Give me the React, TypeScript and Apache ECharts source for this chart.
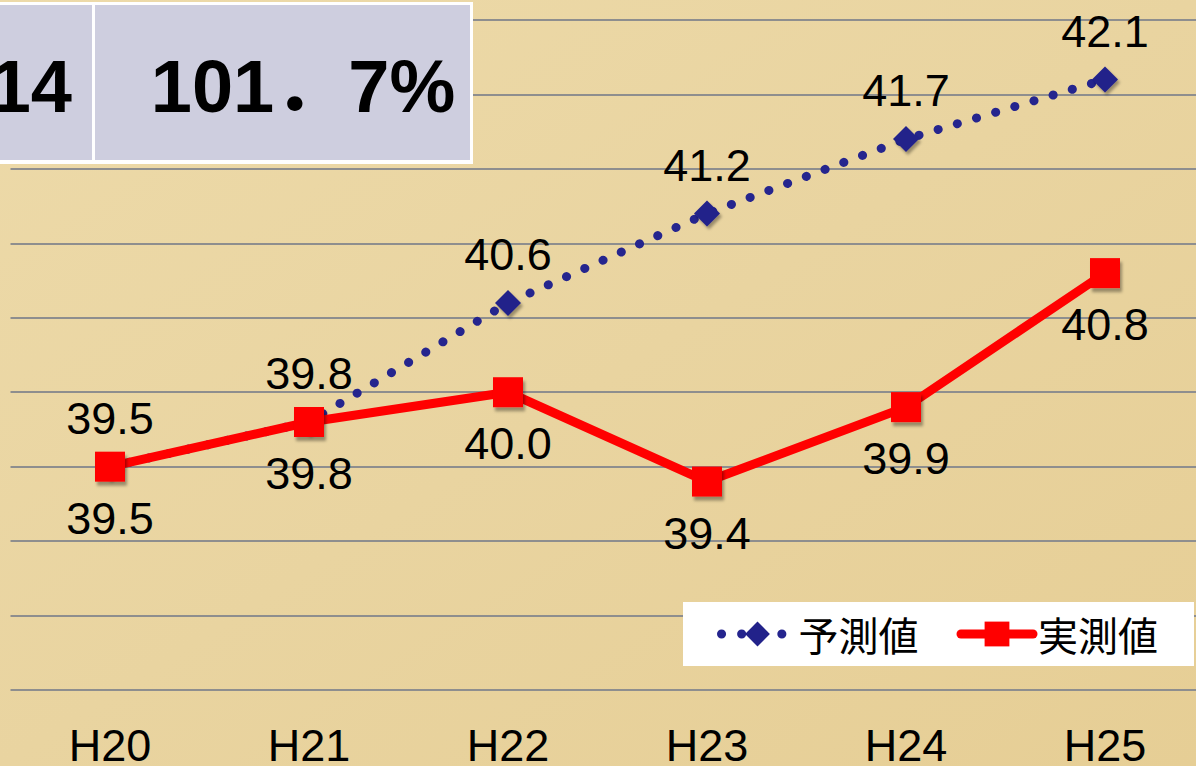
import React, { useEffect, useRef } from "react";
import * as echarts from "echarts";

const categories = ["H20", "H21", "H22", "H23", "H24", "H25"];
const forecastValues = [39.5, 39.8, 40.6, 41.2, 41.7, 42.1];
const actualValues = [39.5, 39.8, 40.0, 39.4, 39.9, 40.8];
const seriesNames = ["予測値", "実測値"];
const tableLeftText = "14";
const tableRightText = "101．7%";

export default function App() {
  const ref = useRef<HTMLDivElement>(null);

  useEffect(() => {
    if (!ref.current) return;
    const chart = echarts.init(ref.current, null, { renderer: "svg" });
    const labelFont = "'Liberation Sans', Arial, sans-serif";
    const option: any = {
      animation: false,
      backgroundColor: {
        type: "linear",
        x: 0,
        y: 0,
        x2: 1,
        y2: 1,
        colorStops: [
          { offset: 0, color: "#eddaa9" },
          { offset: 0.5, color: "#e9d4a0" },
          { offset: 1, color: "#e6ce95" },
        ],
      },
      grid: {
        left: 10.5,
        width: 1194,
        top: 20,
        bottom: 76,
        containLabel: false,
        outerBoundsMode: "none",
      },
      xAxis: {
        type: "category",
        data: categories,
        boundaryGap: true,
        axisLine: { show: false },
        axisTick: { show: false },
        splitLine: { show: false },
        axisLabel: {
          color: "#000",
          fontSize: 45,
          fontFamily: labelFont,
          margin: 33,
        },
      },
      yAxis: {
        type: "value",
        min: 38,
        max: 42.5,
        interval: 0.5,
        axisLine: { show: false },
        axisTick: { show: false },
        axisLabel: { show: false },
        splitLine: { lineStyle: { color: "#8e8e8e", width: 2 } },
      },
      legend: {
        left: 683,
        top: 602,
        width: 470,
        orient: "horizontal",
        backgroundColor: "#ffffff",
        padding: [12, 36, 12, 34],
        itemWidth: 72,
        itemHeight: 31,
        itemGap: 38,
        textStyle: {
          color: "#000",
          fontSize: 40,
          fontFamily: "'Noto Sans CJK JP', sans-serif",
        },
        data: [
          { name: seriesNames[0], lineStyle: { width: 9, type: [0.1, 20], cap: "round" } },
          { name: seriesNames[1], lineStyle: { width: 9, cap: "round" } },
        ],
      },
      series: [
        {
          name: seriesNames[0],
          type: "line",
          data: forecastValues,
          symbol: "diamond",
          symbolSize: 26,
          z: 2,
          lineStyle: {
            color: "#25258e",
            width: 9,
            type: [0.1, 19.9],
            cap: "round",
          },
          itemStyle: {
            color: "#22228a",
            shadowBlur: 3,
            shadowOffsetX: 2,
            shadowOffsetY: 3,
            shadowColor: "rgba(0,0,0,0.35)",
          },
          label: {
            show: true,
            position: "top",
            distance: 13,
            color: "#000",
            fontSize: 45,
            fontFamily: labelFont,
            formatter: (p: any) => p.value.toFixed(1),
          },
        },
        {
          name: seriesNames[1],
          type: "line",
          data: actualValues,
          symbol: "rect",
          symbolSize: 30,
          z: 3,
          lineStyle: { color: "#ff0000", width: 9 },
          itemStyle: {
            color: "#ff0000",
            shadowBlur: 3,
            shadowOffsetX: 2,
            shadowOffsetY: 4,
            shadowColor: "rgba(0,0,0,0.35)",
          },
          label: {
            show: true,
            position: "bottom",
            distance: 14,
            color: "#000",
            fontSize: 45,
            fontFamily: labelFont,
            formatter: (p: any) => p.value.toFixed(1),
          },
        },
      ],
      graphic: [
        {
          type: "rect",
          z: 10,
          shape: { x: -10, y: 2, width: 483, height: 162 },
          style: { fill: "#ffffff" },
        },
        {
          type: "rect",
          z: 11,
          shape: { x: -10, y: 5, width: 102, height: 155 },
          style: { fill: "#cecedf" },
        },
        {
          type: "rect",
          z: 11,
          shape: { x: 95, y: 5, width: 375, height: 155 },
          style: { fill: "#cecedf" },
        },
        {
          type: "text",
          z: 12,
          x: 72,
          y: 86,
          style: {
            text: tableLeftText,
            fill: "#000",
            font: "bold 74px 'Liberation Sans', Arial, sans-serif",
            align: "right",
            verticalAlign: "middle",
          },
        },
        {
          type: "text",
          z: 12,
          x: 303,
          y: 86,
          style: {
            text: tableRightText,
            fill: "#000",
            font: "bold 74px 'Liberation Sans', 'Noto Sans CJK JP', sans-serif",
            align: "center",
            verticalAlign: "middle",
          },
        },
      ],
    };
    chart.setOption(option);
    return () => chart.dispose();
  }, []);

  return (
    <div
      ref={ref}
      style={{ position: "absolute", left: 0, top: 0, width: 1196, height: 766 }}
    />
  );
}
